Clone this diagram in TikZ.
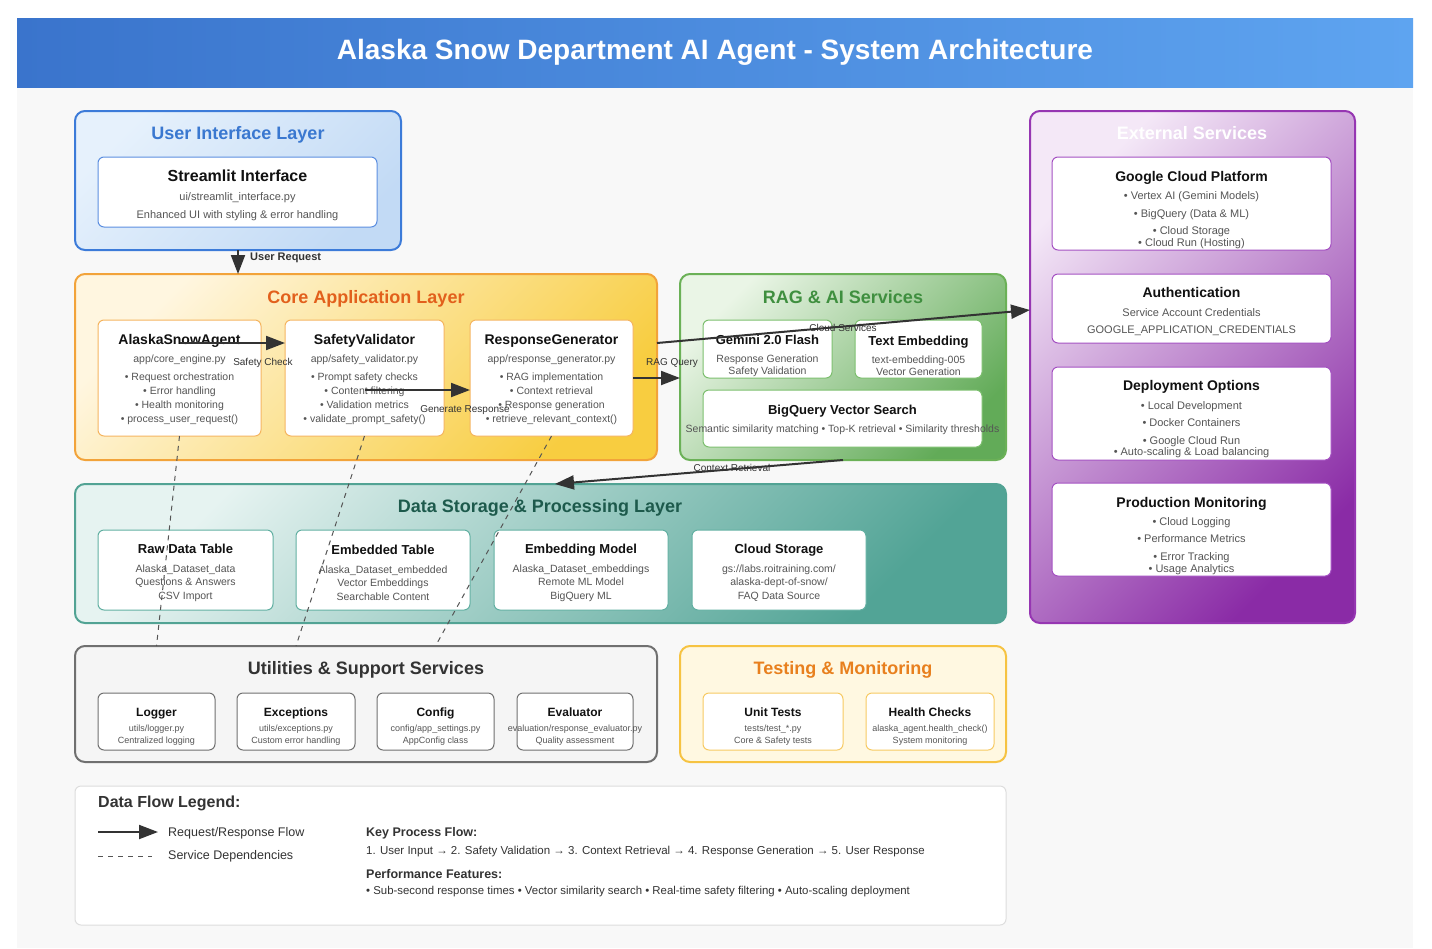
\documentclass[tikz,border=0pt]{standalone}
\usepackage{fontspec}
\setmainfont{Liberation Sans}
\usetikzlibrary{arrows.meta,calc}
\definecolor{hdrL}{HTML}{3A74CC}
\definecolor{hdrR}{HTML}{5EA4F0}
\definecolor{bodybg}{HTML}{F8F8F8}
\definecolor{uiB}{HTML}{3C7BD9}
\definecolor{uiL}{HTML}{E6F1FC}
\definecolor{uiD}{HTML}{C2DAF5}
\definecolor{uiT}{HTML}{3A78D0}
\definecolor{uiI}{HTML}{5B8EE0}
\definecolor{coB}{HTML}{F2A33A}
\definecolor{coL}{HTML}{FFF6E0}
\definecolor{coD}{HTML}{F8CD40}
\definecolor{coT}{HTML}{E2601C}
\definecolor{coI}{HTML}{F5B560}
\definecolor{raB}{HTML}{6BB157}
\definecolor{raL}{HTML}{EAF5E6}
\definecolor{raD}{HTML}{62AB58}
\definecolor{raT}{HTML}{3F8F3F}
\definecolor{raI}{HTML}{7CBF6E}
\definecolor{exB}{HTML}{9636B2}
\definecolor{exL}{HTML}{F4E8F7}
\definecolor{exD}{HTML}{8A2BA6}
\definecolor{exI}{HTML}{A450C2}
\definecolor{daB}{HTML}{52A394}
\definecolor{daL}{HTML}{E6F3F1}
\definecolor{daD}{HTML}{52A496}
\definecolor{daT}{HTML}{1D5A4C}
\definecolor{daI}{HTML}{62B0A2}
\definecolor{utB}{HTML}{707070}
\definecolor{utF}{HTML}{F5F5F5}
\definecolor{utT}{HTML}{333333}
\definecolor{teB}{HTML}{F6C342}
\definecolor{teF}{HTML}{FFF8E1}
\definecolor{teT}{HTML}{E8801E}
\definecolor{teI}{HTML}{F7CA62}
\definecolor{lgB}{HTML}{DDDDDD}
\definecolor{txtD}{HTML}{111111}
\definecolor{txtG}{HTML}{555555}
\definecolor{arrC}{HTML}{333333}
\definecolor{depC}{HTML}{555555}
\newcommand\boxttl[2]{{\color{txtD}\bfseries\fontsize{#1}{#1}\selectfont #2}}
\begin{document}
\begin{tikzpicture}[x=1pt,y=-1pt,
  layer/.style={rounded corners=10pt, line width=2pt, anchor=north west, inner sep=0pt, outer sep=0pt},
  ibox/.style={draw, fill=white, rounded corners=6pt, line width=1pt, anchor=north west, inner sep=0pt, outer sep=0pt},
  ltitle/.style={font=\bfseries\fontsize{18}{20}\selectfont, anchor=base, inner sep=0pt},
  itext/.style={align=center, inner sep=0pt, text=txtG, yshift=-1.5pt},
  flow/.style={draw=arrC, line width=2pt, -{Triangle[length=19pt,width=14pt]}},
  dep/.style={draw=depC, line width=1pt, dash pattern=on 5pt off 5pt},
  albl/.style={font=\fontsize{10}{12}\selectfont, text=arrC, inner sep=0pt},
  lgtxt/.style={text=arrC, inner sep=0pt, anchor=west}]
\useasboundingbox (0,0) rectangle (1432,948);
\fill[white] (0,0) rectangle (1432,948);
\fill[bodybg] (17,87) rectangle (1413,948);
% header
\node[anchor=north west, minimum width=1396pt, minimum height=69pt, inner sep=0pt, outer sep=0pt, left color=hdrL, right color=hdrR] (header) at (17,18) {};
\node[anchor=base, inner sep=0pt, text=white, font=\bfseries\fontsize{28}{30}\selectfont] (htitle) at (715,59) {Alaska Snow Department AI Agent - System Architecture};

% UI layer
\node[layer, draw=uiB, top color=uiL, bottom color=uiD, shading angle=45, minimum width=326pt, minimum height=139pt] (ui) at (75,111) {};
\node[ltitle, text=uiT] (uiT) at (238,139.5) {User Interface Layer};
\node[ibox, draw=uiI, minimum width=279pt, minimum height=70pt] (stream) at (98,157) {};
\node[itext, font=\fontsize{11}{18}\selectfont] (streamT) at (237.5,193.5) {\boxttl{16}{Streamlit Interface}\\[1pt] ui/streamlit\_interface.py\\ Enhanced UI with styling \& error handling};

% Core layer
\node[layer, draw=coB, top color=coL, bottom color=coD, shading angle=45, minimum width=582pt, minimum height=186pt] (core) at (75,274) {};
\node[ltitle, text=coT] (coreT) at (366,303.5) {Core Application Layer};
\node[ibox, draw=coI, minimum width=163pt, minimum height=116pt] (agent) at (98,320) {};
\node[ibox, draw=coI, minimum width=159pt, minimum height=116pt] (safety) at (285,320) {};
\node[ibox, draw=coI, minimum width=163pt, minimum height=116pt] (respgen) at (470,320) {};
\node[itext, font=\fontsize{10.5}{14}\selectfont] (agentT) at (179.5,378) {\boxttl{14}{AlaskaSnowAgent}\\[4pt] app/core\_engine.py\\[4pt] • Request orchestration\\ • Error handling\\ • Health monitoring\\ • process\_user\_request()};
\node[itext, font=\fontsize{10.5}{14}\selectfont] (safetyT) at (364.5,378) {\boxttl{14}{SafetyValidator}\\[4pt] app/safety\_validator.py\\[4pt] • Prompt safety checks\\ • Content filtering\\ • Validation metrics\\ • validate\_prompt\_safety()};
\node[itext, font=\fontsize{10.5}{14}\selectfont] (respgenT) at (551.5,378) {\boxttl{14}{ResponseGenerator}\\[4pt] app/response\_generator.py\\[4pt] • RAG implementation\\ • Context retrieval\\ • Response generation\\ • retrieve\_relevant\_context()};

% RAG layer
\node[layer, draw=raB, top color=raL, bottom color=raD, shading angle=45, minimum width=326pt, minimum height=186pt] (rag) at (680,274) {};
\node[ltitle, text=raT] (ragT) at (843,303.5) {RAG \& AI Services};
\node[ibox, draw=raI, minimum width=129pt, minimum height=58pt] (gemini) at (703,320) {};
\node[ibox, draw=raI, minimum width=127pt, minimum height=58pt] (temb) at (855,320) {};
\node[ibox, draw=raI, minimum width=279pt, minimum height=57pt] (bqvs) at (703,390) {};
\node[itext, font=\fontsize{10.5}{12}\selectfont] (geminiT) at (767.5,354) {\boxttl{13}{Gemini 2.0 Flash}\\[6pt] Response Generation\\ Safety Validation};
\node[itext, font=\fontsize{10.5}{12}\selectfont] (tembT) at (918.5,354) {\boxttl{13}{Text Embedding}\\[6pt] text-embedding-005\\ Vector Generation};
\node[itext, font=\fontsize{10.5}{18}\selectfont] (bqvsT) at (842.5,418) {\boxttl{13}{BigQuery Vector Search}\\ Semantic similarity matching • Top-K retrieval • Similarity thresholds};

% External services
\node[layer, draw=exB, top color=exL, bottom color=exD, shading angle=45, minimum width=325pt, minimum height=512pt] (ext) at (1030,111) {};
\node[ltitle, text=white] (extT) at (1192,139.5) {External Services};
\node[ibox, draw=exI, minimum width=279pt, minimum height=93pt] (gcp) at (1052,157) {};
\node[ibox, draw=exI, minimum width=279pt, minimum height=69pt] (auth) at (1052,274) {};
\node[ibox, draw=exI, minimum width=279pt, minimum height=93pt] (deploy) at (1052,367) {};
\node[ibox, draw=exI, minimum width=279pt, minimum height=93pt] (prodmon) at (1052,483) {};
\node[itext, font=\fontsize{11}{12}\selectfont] (gcpT) at (1191.5,208.5) {\boxttl{14}{Google Cloud Platform}\\[6pt] • Vertex AI (Gemini Models)\\[6pt] • BigQuery (Data \& ML)\\[5pt] • Cloud Storage\\ • Cloud Run (Hosting)};
\node[itext, font=\fontsize{11}{12}\selectfont] (authT) at (1191.5,310) {\boxttl{14}{Authentication}\\[7pt] Service Account Credentials\\[5pt] GOOGLE\_APPLICATION\_CREDENTIALS};
\node[itext, font=\fontsize{11}{12}\selectfont] (deployT) at (1191.5,417.5) {\boxttl{14}{Deployment Options}\\[7pt] • Local Development\\[5pt] • Docker Containers\\[6pt] • Google Cloud Run\\[-1pt] • Auto-scaling \& Load balancing};
\node[itext, font=\fontsize{11}{12}\selectfont] (prodmonT) at (1191.5,534.5) {\boxttl{14}{Production Monitoring}\\[6pt] • Cloud Logging\\[5pt] • Performance Metrics\\[6pt] • Error Tracking\\ • Usage Analytics};

% Data storage layer
\node[layer, draw=daB, top color=daL, bottom color=daD, shading angle=45, minimum width=931pt, minimum height=139pt] (data) at (75,484) {};
\node[ltitle, text=daT] (dataT) at (540,512.5) {Data Storage \& Processing Layer};
\node[ibox, draw=daI, minimum width=175pt, minimum height=80pt] (raw) at (98,530) {};
\node[ibox, draw=daI, minimum width=174pt, minimum height=80pt] (embt) at (296,530) {};
\node[ibox, draw=daI, minimum width=174pt, minimum height=80pt] (embm) at (494,530) {};
\node[ibox, draw=daI, minimum width=174pt, minimum height=80pt] (cstore) at (692,530) {};
\node[itext, font=\fontsize{10.5}{13.5}\selectfont] (rawT) at (185.5,571) {\boxttl{13}{Raw Data Table}\\[5.5pt] Alaska\_Dataset\_data\\ Questions \& Answers\\ CSV Import};
\node[itext, font=\fontsize{10.5}{13.5}\selectfont] (embtT) at (383,571) {\boxttl{13}{Embedded Table}\\[5.5pt] Alaska\_Dataset\_embedded\\ Vector Embeddings\\ Searchable Content};
\node[itext, font=\fontsize{10.5}{13.5}\selectfont] (embmT) at (581,571) {\boxttl{13}{Embedding Model}\\[5.5pt] Alaska\_Dataset\_embeddings\\ Remote ML Model\\ BigQuery ML};
\node[itext, font=\fontsize{10.5}{13.5}\selectfont] (cstoreT) at (779,571) {\boxttl{13}{Cloud Storage}\\[5.5pt] gs://labs.roitraining.com/\\ alaska-dept-of-snow/\\ FAQ Data Source};

% Utilities layer
\node[layer, draw=utB, fill=utF, minimum width=582pt, minimum height=116pt] (util) at (75,646) {};
\node[ltitle, text=utT] (utilT) at (366,674.5) {Utilities \& Support Services};
\node[ibox, draw=utB, minimum width=117pt, minimum height=57pt] (logger) at (98,693) {};
\node[ibox, draw=utB, minimum width=118pt, minimum height=57pt] (exc) at (237,693) {};
\node[ibox, draw=utB, minimum width=117pt, minimum height=57pt] (config) at (377,693) {};
\node[ibox, draw=utB, minimum width=116pt, minimum height=57pt] (evalr) at (517,693) {};
\node[itext, font=\fontsize{9}{12}\selectfont] (loggerT) at (156.5,725.5) {\boxttl{12}{Logger}\\[3pt] utils/logger.py\\ Centralized logging};
\node[itext, font=\fontsize{9}{12}\selectfont] (excT) at (296,725.5) {\boxttl{12}{Exceptions}\\[3pt] utils/exceptions.py\\ Custom error handling};
\node[itext, font=\fontsize{9}{12}\selectfont] (configT) at (435.5,725.5) {\boxttl{12}{Config}\\[3pt] config/app\_settings.py\\ AppConfig class};
\node[itext, font=\fontsize{9}{12}\selectfont] (evalrT) at (575,725.5) {\boxttl{12}{Evaluator}\\[3pt] evaluation/response\_evaluator.py\\ Quality assessment};

% dependencies
\draw[dep] (agent.south) -- (logger.north |- util.north);
\draw[dep] (safety.south) -- (exc.north |- util.north);
\draw[dep] (respgen.south) -- (config.north |- util.north);

% Testing layer
\node[layer, draw=teB, fill=teF, minimum width=326pt, minimum height=116pt] (test) at (680,646) {};
\node[ltitle, text=teT] (testT) at (843,674.5) {Testing \& Monitoring};
\node[ibox, draw=teI, minimum width=140pt, minimum height=57pt] (unit) at (703,693) {};
\node[ibox, draw=teI, minimum width=128pt, minimum height=57pt] (health) at (866,693) {};
\node[itext, font=\fontsize{9}{12}\selectfont] (unitT) at (773,725.5) {\boxttl{12}{Unit Tests}\\[3pt] tests/test\_*.py\\ Core \& Safety tests};
\node[itext, font=\fontsize{9}{12}\selectfont] (healthT) at (930,725.5) {\boxttl{12}{Health Checks}\\[3pt] alaska\_agent.health\_check()\\ System monitoring};

% Legend
\node[draw=lgB, fill=white, line width=1pt, rounded corners=6pt, anchor=north west, inner sep=0pt, outer sep=0pt, minimum width=931pt, minimum height=139pt] (legend) at (75,786) {};
\node[lgtxt, font=\bfseries\fontsize{16}{18}\selectfont] (lgT) at (98,803) {Data Flow Legend:};
\coordinate (lga1) at (98,832);
\coordinate (lga2) at (158,832);
\draw[flow] (lga1) -- (lga2);
\node[lgtxt, font=\fontsize{12.5}{14}\selectfont] (lgA) at (168,833) {Request/Response Flow};
\coordinate (lgd1) at (98,856);
\coordinate (lgd2) at (152,856);
\draw[draw=depC, line width=1pt, dash pattern=on 5pt off 5pt] (lgd1) -- (lgd2);
\node[lgtxt, font=\fontsize{12.5}{14}\selectfont] (lgD) at (168,856) {Service Dependencies};
\node[lgtxt, font=\bfseries\fontsize{12.5}{14}\selectfont] (kpT) at (366,833) {Key Process Flow:};
\node[lgtxt, font=\fontsize{11.5}{13}\selectfont] (kp) at (366,852) {1. User Input → 2. Safety Validation → 3. Context Retrieval → 4. Response Generation → 5. User Response};
\node[lgtxt, font=\bfseries\fontsize{12.5}{14}\selectfont] (pfT) at (366,874) {Performance Features:};
\node[lgtxt, font=\fontsize{11.4}{13}\selectfont] (pf) at (366,892) {• Sub-second response times • Vector similarity search • Real-time safety filtering • Auto-scaling deployment};

% Flows
\draw[flow] (ui.south) -- (ui.south |- core.north);
\node[anchor=west, inner sep=0pt, text=arrC, font=\bfseries\fontsize{11}{12}\selectfont] (urL) at (250,258) {User Request};
\coordinate (sc1) at ($(agent.center)+(0,-35)$);
\draw[flow] (sc1) -- (sc1 -| safety.west);
\node[albl] (scL) at (263,363) {Safety Check};
\coordinate (gr1) at ($(safety.center)+(0,12)$);
\draw[flow] (gr1) -- (gr1 -| respgen.west);
\node[albl] (grL) at (465,410) {Generate Response};
\draw[flow] (respgen.east) -- (respgen.east -| rag.west);
\node[albl] (rqL) at (672,363) {RAG Query};
\coordinate (cs1) at ($(core.north east)+(0,69)$);
\coordinate (cs2) at ($(ext.north west)+(0,199)$);
\draw[flow] (cs1) -- (cs2);
\node[albl] (csL) at (843,328) {Cloud Services};
\coordinate (cr2) at ($(data.north west)+(480,0)$);
\draw[flow] (rag.south) -- (cr2);
\node[albl] (crL) at (732,468) {Context Retrieval};
\end{tikzpicture}
\end{document}
